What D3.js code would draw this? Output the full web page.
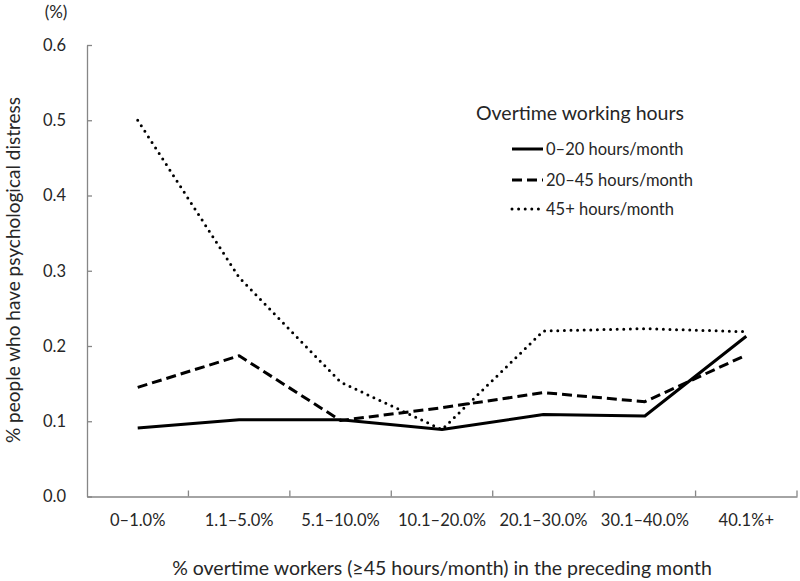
<html>
  <head>
    <meta charset="utf-8">
    <script src="https://cdnjs.cloudflare.com/ajax/libs/d3/7.8.5/d3.min.js"></script>
    <style>
      body { margin: 0; background: #fff; }
      text { font-family: Lato, "Open Sans", sans-serif; fill: #262626; }
    </style>
  </head>
  <body>
  <div id="chart"></div>
  <script>

  // data
  var categories = ["0–1.0%", "1.1–5.0%", "5.1–10.0%", "10.1–20.0%", "20.1–30.0%", "30.1–40.0%", "40.1%+"];
  var hours0to20 = [0.091, 0.102, 0.102, 0.089, 0.109, 0.107, 0.213];
  var hours20to45 = [0.145, 0.187, 0.101, 0.118, 0.138, 0.126, 0.188];
  var hours45plus = [0.500, 0.291, 0.152, 0.089, 0.220, 0.223, 0.219];
  var seriesNames = ["0–20 hours/month", "20–45 hours/month", "45+ hours/month"];
  var yTicks = [0, 0.1, 0.2, 0.3, 0.4, 0.5, 0.6];

  var width = 800, height = 581;
  var margin = {top: 45, right: 3, bottom: 84.5, left: 87};

  var svg = d3.select("#chart").append("svg")
      .attr("width", width)
      .attr("height", height);

  var x = d3.scaleBand()
      .domain(categories)
      .range([margin.left, width - margin.right]);

  var y = d3.scaleLinear()
      .domain([0, 0.6])
      .range([height - margin.bottom, margin.top]);

  var dashes = ["none", "10,5", "0,6.6"];
  var series = [hours0to20, hours20to45, hours45plus];

  // y axis
  var yAxis = svg.append("g")
      .attr("transform", "translate(" + margin.left + ",0)")
      .call(d3.axisLeft(y).tickValues(yTicks).tickFormat(d3.format(".1f"))
            .tickSizeInner(-5).tickSizeOuter(0).tickPadding(21));
  yAxis.selectAll("text").style("font-size", "16.5px");

  // x axis: labels centred, ticks at category boundaries
  var xAxis = svg.append("g")
      .attr("transform", "translate(0," + (height - margin.bottom) + ")")
      .call(d3.axisBottom(x).tickSize(0).tickPadding(18));
  xAxis.selectAll("text").style("font-size", "16.5px");

  var bounds = categories.map(function(c) { return x(c) + x.bandwidth(); });
  xAxis.selectAll(".bound").data(bounds).enter().append("line")
      .attr("class", "bound")
      .attr("x1", function(d) { return d; })
      .attr("x2", function(d) { return d; })
      .attr("y1", 0).attr("y2", -6);

  svg.selectAll(".domain, .tick line, .bound")
      .attr("stroke", "#868686")
      .attr("stroke-width", 1.3);

  // lines
  var line = d3.line()
      .x(function(d, i) { return x(categories[i]) + x.bandwidth() / 2; })
      .y(function(d) { return y(d); });

  series.forEach(function(s, k) {
    svg.append("path")
        .datum(s)
        .attr("d", line)
        .attr("fill", "none")
        .attr("stroke", "#000")
        .attr("stroke-width", 3)
        .attr("stroke-linecap", k == 2 ? "round" : "butt")
        .attr("stroke-linejoin", "round")
        .attr("stroke-dasharray", dashes[k]);
  });

  // legend
  svg.append("text")
      .attr("x", 476).attr("y", 120)
      .style("font-size", "19.5px")
      .text("Overtime working hours");

  var legendY = [149, 180, 209];
  seriesNames.forEach(function(name, k) {
    svg.append("line")
        .attr("x1", 512).attr("x2", 543)
        .attr("y1", legendY[k]).attr("y2", legendY[k])
        .attr("stroke", "#000")
        .attr("stroke-width", 3)
        .attr("stroke-linecap", k == 2 ? "round" : "butt")
        .attr("stroke-dasharray", dashes[k]);
    svg.append("text")
        .attr("x", 546).attr("y", legendY[k] + 6)
        .style("font-size", "16.5px")
        .text(name);
  });

  // axis titles
  svg.append("text")
      .attr("x", 56).attr("y", 18)
      .attr("text-anchor", "middle")
      .style("font-size", "17px")
      .text("(%)");

  svg.append("text")
      .attr("transform", "translate(20,270) rotate(-90)")
      .attr("text-anchor", "middle")
      .style("font-size", "19px")
      .text("% people who have psychological distress");

  svg.append("text")
      .attr("x", (margin.left + width - margin.right) / 2)
      .attr("y", 575)
      .attr("text-anchor", "middle")
      .style("font-size", "19.5px")
      .text("% overtime workers (≥45 hours/month) in the preceding month");

  </script>
  </body>
</html>
